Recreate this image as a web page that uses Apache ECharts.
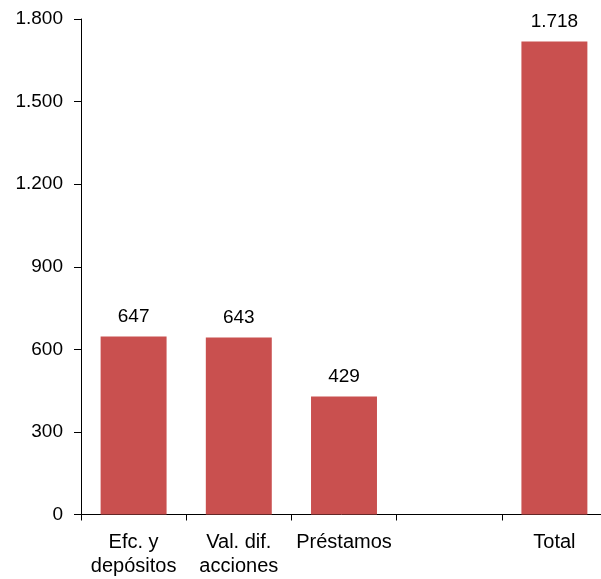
<!DOCTYPE html>
<html>
<head>
<meta charset="utf-8">
<script src="https://cdn.jsdelivr.net/npm/echarts@6/dist/echarts.min.js"></script>
<style>
  html, body { margin: 0; padding: 0; background: #fff; }
  #chart { width: 601px; height: 579px; }
</style>
</head>
<body>
<div id="chart"></div>
<script>
// Categories and values (millones)
const categories = ['Efc. y\ndepósitos', 'Val. dif.\nacciones', 'Préstamos', '', 'Total'];
const values = [647, 643, 429, null, 1718];
const yTicks = [0, 300, 600, 900, 1200, 1500, 1800];

const fmt = v => String(Math.round(v)).replace(/\B(?=(\d{3})+(?!\d))/g, '.');

const chart = echarts.init(document.getElementById('chart'), null, { renderer: 'canvas' });
chart.setOption({
  animation: false,
  backgroundColor: '#ffffff',
  textStyle: { fontFamily: 'Liberation Sans, Arial, sans-serif' },
  // plot area runs slightly past the right edge of the canvas
  grid: { left: 81, width: 526, top: 19, bottom: 64.5, containLabel: false, outerBoundsMode: 'none' },
  xAxis: {
    type: 'category',
    data: categories,
    axisLine: { lineStyle: { color: '#000', width: 1 } },
    axisTick: { show: true, length: 6, lineStyle: { color: '#000' } },
    axisLabel: { color: '#000', fontSize: 20, margin: 16, lineHeight: 24, interval: 0 }
  },
  yAxis: {
    type: 'value',
    min: yTicks[0],
    max: yTicks[yTicks.length - 1],
    interval: 300,
    axisLine: { show: true, lineStyle: { color: '#000', width: 1 } },
    axisTick: { show: true, length: 7, lineStyle: { color: '#000' } },
    splitLine: { show: false },
    axisLabel: { color: '#000', fontSize: 19, margin: 18, formatter: fmt }
  },
  series: [{
    type: 'bar',
    data: values,
    barWidth: '62.7%',
    itemStyle: { color: '#C9504F' },
    label: {
      show: true,
      position: 'top',
      distance: 10,
      color: '#000',
      fontSize: 19,
      formatter: p => fmt(p.value)
    }
  }]
});
</script>
</body>
</html>
